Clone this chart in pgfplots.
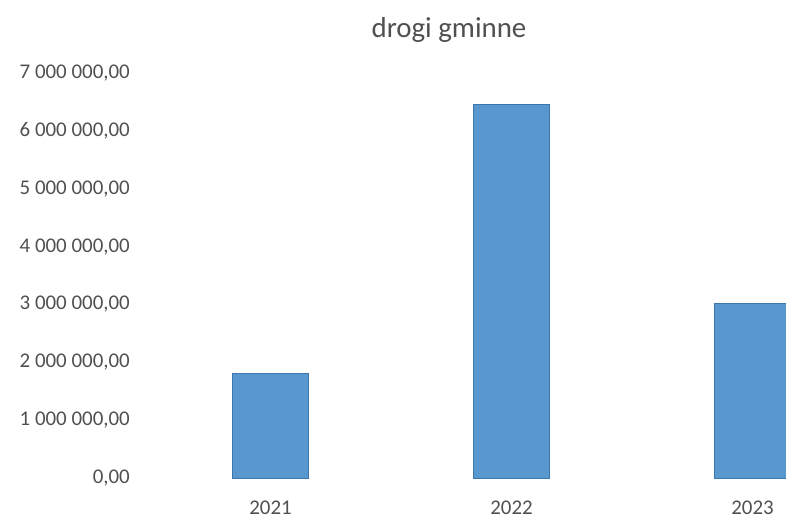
\documentclass[border=0pt]{standalone}
\usepackage{pgfplots}
\pgfplotsset{compat=1.18}
\usepackage{fontspec}
\setmainfont{Carlito}
\definecolor{barfill}{RGB}{88,152,206}
\definecolor{baredge}{RGB}{60,118,172}
\definecolor{txt}{RGB}{80,80,80}
\begin{document}
\begin{tikzpicture}
\path[use as bounding box] (0,0) rectangle (786bp,520bp);
\begin{axis}[
  at={(150bp,42bp)}, anchor=south west,
  scale only axis,
  width=636bp, height=405bp,
  xmin=-0.5, xmax=2.139,
  ymin=0, ymax=7000000,
  scaled y ticks=false,
  axis line style={draw=none},
  major tick length=0pt,
  xtick={0,1,2},
  xticklabels={2021,2022,2023},
  ytick={0,1000000,2000000,3000000,4000000,5000000,6000000,7000000},
  yticklabels={{0,00},{1 000 000,00},{2 000 000,00},{3 000 000,00},{4 000 000,00},{5 000 000,00},{6 000 000,00},{7 000 000,00}},
  tick label style={font=\fontsize{21}{24}\selectfont, text=txt},
  xticklabel style={anchor=center, yshift=-30bp, inner sep=0pt},
  yticklabel style={anchor=east, xshift=-20bp, inner sep=0pt},
  clip=true,
]
\addplot[ybar, bar width=76bp, fill=barfill, draw=baredge, line width=0.8bp]
  coordinates {(0,1800000) (1,6460000) (2,3020000)};
\end{axis}
\node[text=txt, font=\fontsize{29}{34}\selectfont] at (449bp,490bp) {drogi gminne};
\end{tikzpicture}
\end{document}
